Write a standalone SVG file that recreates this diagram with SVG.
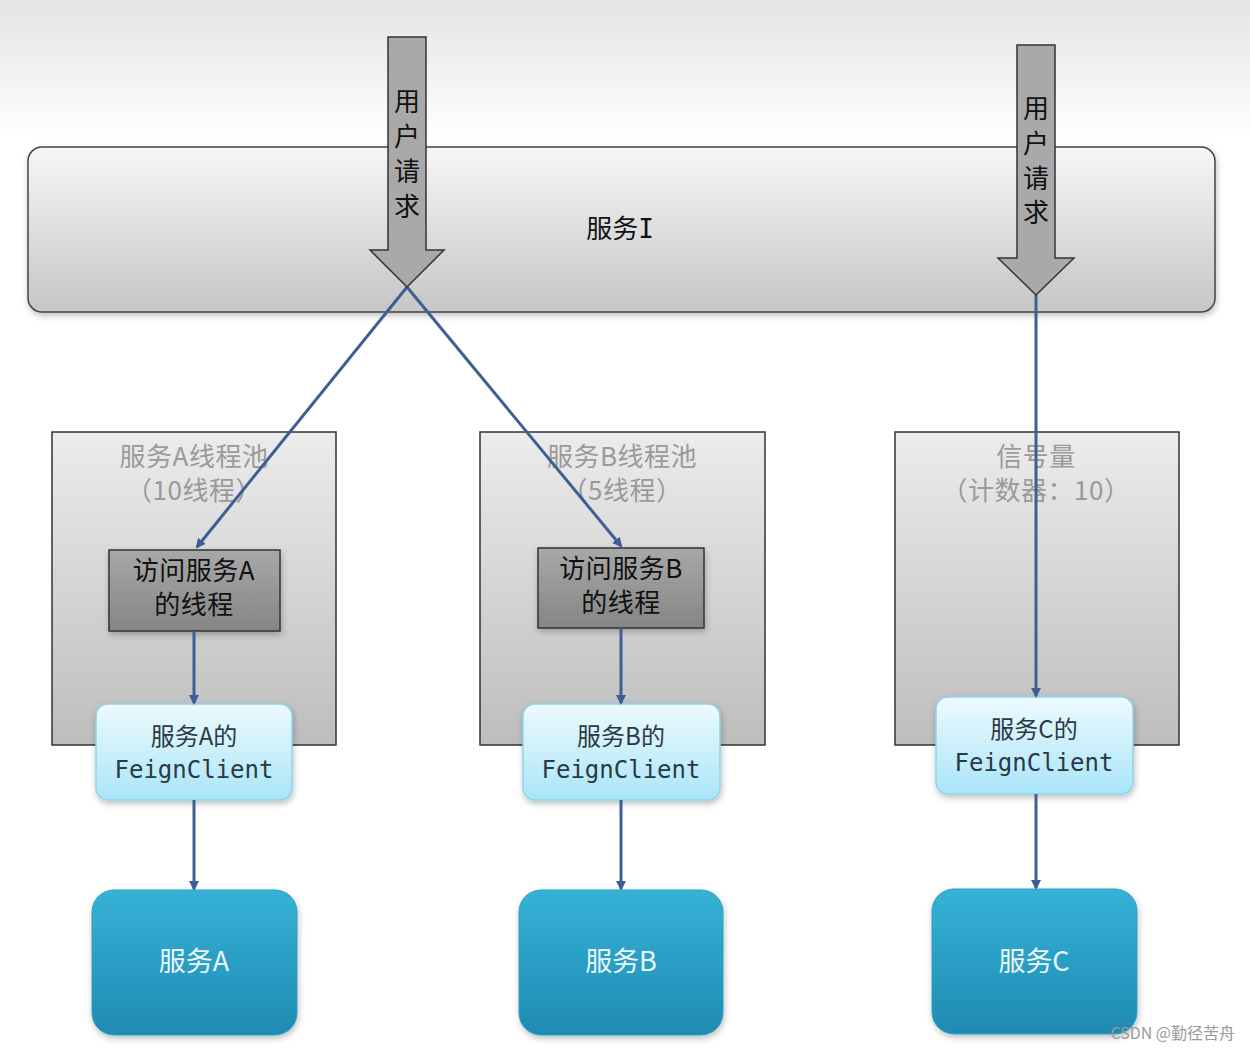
<svg xmlns="http://www.w3.org/2000/svg" width="1250" height="1052" viewBox="0 0 1250 1052">
<defs>
<linearGradient id="bg" x1="0" y1="0" x2="0" y2="1">
<stop offset="0" stop-color="#e4e4e4"/><stop offset="1" stop-color="#ffffff"/>
</linearGradient>
<linearGradient id="gSvcI" x1="0" y1="0" x2="0" y2="1">
<stop offset="0" stop-color="#f6f6f6"/><stop offset="1" stop-color="#c6c6c6"/>
</linearGradient>
<linearGradient id="gPool" x1="0" y1="0" x2="0" y2="1">
<stop offset="0" stop-color="#ececec"/><stop offset="1" stop-color="#bdbdbd"/>
</linearGradient>
<linearGradient id="gThread" x1="0" y1="0" x2="0" y2="1">
<stop offset="0" stop-color="#a8a8a8"/><stop offset="1" stop-color="#858585"/>
</linearGradient>
<linearGradient id="gFeign" x1="0" y1="0" x2="0" y2="1">
<stop offset="0" stop-color="#eefafe"/><stop offset="1" stop-color="#a9e5f8"/>
</linearGradient>
<linearGradient id="gSvc" x1="0" y1="0" x2="0" y2="1">
<stop offset="0" stop-color="#36b2d7"/><stop offset="1" stop-color="#1f8ab2"/>
</linearGradient>
<filter id="sh" x="-10%" y="-10%" width="125%" height="130%">
<feDropShadow dx="1" dy="3" stdDeviation="3" flood-color="#000" flood-opacity="0.25"/>
</filter>
<marker id="ah" markerWidth="10" markerHeight="10" refX="8" refY="5" orient="auto" markerUnits="userSpaceOnUse">
<path d="M0,0 L10,5 L0,10 z" fill="#3d5f94"/>
</marker>
</defs>
<style>
.cjk{font-family:"Noto Sans CJK SC","Noto Sans",sans-serif;}
.pool{fill:url(#gPool);stroke:#333;stroke-width:1.5;}
.ptxt{fill:#9a9a9a;font-size:26px;letter-spacing:0.5px;}
.thread{fill:url(#gThread);stroke:#333;stroke-width:1.5;}
.ttxt{fill:#111;font-size:26px;letter-spacing:0.5px;}
.feign{fill:url(#gFeign);stroke:#8fd3ea;stroke-width:1.5;}
.ftxt{fill:#2a3a44;font-size:24px;}
.mono{font-family:"DejaVu Sans Mono","Liberation Mono",monospace;font-size:24px;fill:#2a3a44;}
.svc{fill:url(#gSvc);stroke:#2a9fc4;stroke-width:1;}
.stxt{fill:#e8f7fc;font-size:27px;}
.big{fill:#a9a9a9;stroke:#333;stroke-width:1.5;}
.conn{stroke:#3d5f94;stroke-width:3;fill:none;marker-end:url(#ah);}
</style>
<rect x="0" y="0" width="1250" height="140" fill="url(#bg)"/>
<rect x="0" y="140" width="1250" height="912" fill="#ffffff"/>

<g id="serviceI">
<rect x="28" y="147" width="1187" height="165" rx="14" fill="url(#gSvcI)" stroke="#444" stroke-width="1.5" filter="url(#sh)"/>
<text x="620" y="238" class="cjk" font-size="26" fill="#111" text-anchor="middle">服务<tspan font-family="DejaVu Sans Mono, monospace">I</tspan></text>
</g>

<g id="poolA">
<rect class="pool" x="52" y="432" width="284" height="313"/>
<text class="cjk ptxt" x="194" y="466" text-anchor="middle">服务A线程池</text>
<text class="cjk ptxt" x="194" y="500" text-anchor="middle">（10线程）</text>
</g>
<g id="poolB">
<rect class="pool" x="480" y="432" width="285" height="313"/>
<text class="cjk ptxt" x="622" y="466" text-anchor="middle">服务B线程池</text>
<text class="cjk ptxt" x="622" y="500" text-anchor="middle">（5线程）</text>
</g>
<g id="semaphore">
<rect class="pool" x="895" y="432" width="284" height="313"/>
<text class="cjk ptxt" x="1036" y="466" text-anchor="middle">信号量</text>
<text class="cjk ptxt" x="1036" y="500" text-anchor="middle">（计数器：10）</text>
</g>

<g id="threadA">
<rect class="thread" x="109" y="550" width="171" height="81" filter="url(#sh)"/>
<text class="cjk ttxt" x="194" y="580" text-anchor="middle">访问服务A</text>
<text class="cjk ttxt" x="194" y="614" text-anchor="middle">的线程</text>
</g>
<g id="threadB">
<rect class="thread" x="538" y="548" width="166" height="80" filter="url(#sh)"/>
<text class="cjk ttxt" x="621" y="578" text-anchor="middle">访问服务B</text>
<text class="cjk ttxt" x="621" y="612" text-anchor="middle">的线程</text>
</g>

<g id="feignA">
<rect class="feign" x="96" y="704" width="196" height="96" rx="12" filter="url(#sh)"/>
<text class="cjk ftxt" x="194" y="745" text-anchor="middle">服务A的</text>
<text class="mono" x="194" y="778" text-anchor="middle">FeignClient</text>
</g>
<g id="feignB">
<rect class="feign" x="523" y="704" width="197" height="96" rx="12" filter="url(#sh)"/>
<text class="cjk ftxt" x="621" y="745" text-anchor="middle">服务B的</text>
<text class="mono" x="621" y="778" text-anchor="middle">FeignClient</text>
</g>
<g id="feignC">
<rect class="feign" x="936" y="697" width="197" height="97" rx="12" filter="url(#sh)"/>
<text class="cjk ftxt" x="1034" y="738" text-anchor="middle">服务C的</text>
<text class="mono" x="1034" y="771" text-anchor="middle">FeignClient</text>
</g>

<g id="serviceA">
<rect class="svc" x="92" y="890" width="205" height="145" rx="22" filter="url(#sh)"/>
<text class="cjk stxt" x="194" y="971" text-anchor="middle">服务A</text>
</g>
<g id="serviceB">
<rect class="svc" x="519" y="890" width="204" height="145" rx="22" filter="url(#sh)"/>
<text class="cjk stxt" x="621" y="971" text-anchor="middle">服务B</text>
</g>
<g id="serviceC">
<rect class="svc" x="932" y="889" width="205" height="145" rx="22" filter="url(#sh)"/>
<text class="cjk stxt" x="1034" y="971" text-anchor="middle">服务C</text>
</g>

<g id="connectors">
<line class="conn" x1="407" y1="287" x2="197" y2="547"/>
<line class="conn" x1="407" y1="287" x2="621" y2="546"/>
<line class="conn" x1="1036" y1="295" x2="1036" y2="696"/>
<line class="conn" x1="194" y1="631" x2="194" y2="703"/>
<line class="conn" x1="621" y1="628" x2="621" y2="703"/>
<line class="conn" x1="194" y1="800" x2="194" y2="889"/>
<line class="conn" x1="621" y1="800" x2="621" y2="889"/>
<line class="conn" x1="1036" y1="794" x2="1036" y2="888"/>
</g>

<g id="requestArrowLeft">
<path class="big" d="M388,37 L426,37 L426,250 L444,250 L407,287 L370,250 L388,250 Z"/>
<text class="cjk" font-size="26" fill="#111" text-anchor="middle">
<tspan x="407" y="111">用</tspan><tspan x="407" y="146">户</tspan><tspan x="407" y="181">请</tspan><tspan x="407" y="216">求</tspan>
</text>
</g>
<g id="requestArrowRight">
<path class="big" d="M1017,45 L1055,45 L1055,258 L1074,258 L1036,295 L998,258 L1017,258 Z"/>
<text class="cjk" font-size="26" fill="#111" text-anchor="middle">
<tspan x="1036" y="118">用</tspan><tspan x="1036" y="153">户</tspan><tspan x="1036" y="188">请</tspan><tspan x="1036" y="222">求</tspan>
</text>
</g>

<text x="1235" y="1039" class="cjk" font-size="16" fill="#9a9a9a" text-anchor="end">CSDN @勤径苦舟</text>
</svg>
